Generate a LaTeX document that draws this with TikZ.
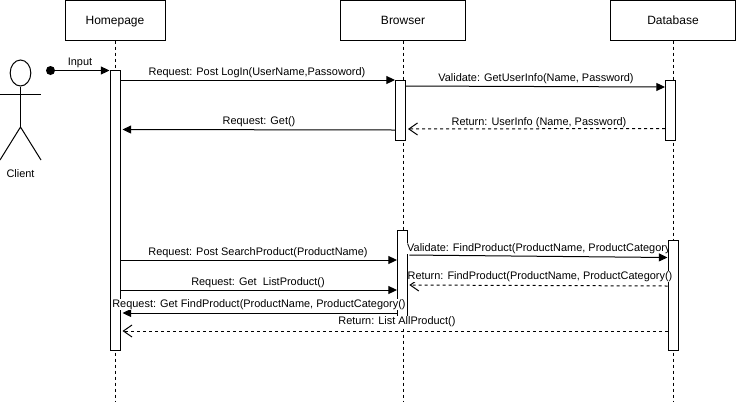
\documentclass[tikz,border=0pt]{standalone}
\usepackage{fontspec}
\setmainfont{Liberation Sans}
\usetikzlibrary{arrows.meta,shapes.geometric}
\tikzset{
	headbox/.style={draw, fill=white, line width=0.75pt, minimum height=30pt, inner sep=0pt, text height=7.5pt, text depth=0.5pt, font=\fontsize{9pt}{11pt}\selectfont},
	bar/.style={draw, fill=white, line width=0.75pt, minimum width=7.5pt, inner sep=0pt},
	lifeline/.style={line width=0.75pt, dash pattern=on 2.25pt off 2.25pt},
	msg/.style={line width=0.75pt, -{Triangle[length=6.5pt,width=6pt]}},
	backmsg/.style={line width=0.75pt, dash pattern=on 2.25pt off 2.25pt, -{Straight Barb[length=6.5pt,width=9pt]}},
	msglabel/.style={fill=white, inner sep=0pt, font=\fontsize{8.2pt}{9.5pt}\selectfont},
}
\begin{document}
\begin{tikzpicture}[x=0.75pt, y=-0.75pt]
			%%%%% START %%%%%
			\useasboundingbox (0, 0) rectangle (736, 401);
			
			\node[headbox, minimum width=75pt] (home) at (115, 20) {Homepage};
			\node[headbox, minimum width=94pt] (browser) at (403, 20) {Browser};
			\node[headbox, minimum width=94pt] (database) at (673, 20) {Database};
			
			\coordinate (homeEnd) at (115, 401);
			\coordinate (browserEnd) at (403, 401);
			\coordinate (databaseEnd) at (673, 401);
			\draw[lifeline] (home.south) -- (homeEnd);
			\draw[lifeline] (browser.south) -- (browserEnd);
			\draw[lifeline] (database.south) -- (databaseEnd);
			
			% client
			\node[draw, ellipse, line width=0.75pt, minimum width=15.5pt, minimum height=19.5pt, inner sep=0pt] (head) at (20.5, 73) {};
			\coordinate (neck) at (20.5, 127);
			\coordinate (armL) at (0, 94);
			\coordinate (armR) at (41, 94);
			\coordinate (legL) at (0, 160);
			\coordinate (legR) at (41, 160);
			\draw[line width=0.75pt] (head.south) -- (neck);
			\draw[line width=0.75pt] (armL) -- (armR);
			\draw[line width=0.75pt] (legL) -- (neck) -- (legR);
			\node[msglabel] (client) at (20.5, 174) {Client};
			
			\node[bar, minimum height=210pt] (homeBar) at (115, 210) {};
			\node[bar, minimum height=45pt] (browserBarA) at (400.5, 110) {};
			\node[bar, minimum height=45pt] (databaseBarA) at (670.5, 110) {};
			\node[bar, minimum height=67.5pt] (browserBarB) at (402.5, 275) {};
			
			\node[circle, fill=black, minimum size=6.75pt, inner sep=0pt] (start) at (50.5, 70.5) {};
			\draw[msg] (start) -- (homeBar.west |- start);
			\node[msglabel] (inputLabel) at (80, 62.5) {Input};
			
			\draw[msg] (homeBar.east |- 0,80) -- (browserBarA.west |- 0,80);
			\node[msglabel] (loginLabel) at (257, 72.5) {Request: Post LogIn(UserName,Passoword)};
			
			\draw[msg, shorten >=1.5pt] (browserBarA.west |- 0,130) -- (homeBar.east |- 0,129.5);
			\node[msglabel] (getLabel) at (259, 121.5) {Request: Get()};
			
			\draw[msg] (browserBarA.east |- 0,86) -- (databaseBarA.west |- 0,87);
			\node[msglabel] (validateLabel) at (536, 78.5) {Validate: GetUserInfo(Name, Password)};
			
			\draw[backmsg, shorten >=1.5pt] (databaseBarA.west |- 0,128.5) -- (browserBarA.east |- 0,129);
			\node[msglabel] (returnLabel) at (539, 122.5) {Return: UserInfo (Name, Password)};
			
			\draw[msg] (homeBar.east |- 0,260) -- (browserBarB.west |- 0,260);
			\node[msglabel] (searchLabel) at (258, 252.5) {Request: Post SearchProduct(ProductName)};
			
			\draw[msg] (homeBar.east |- 0,290) -- (browserBarB.west |- 0,290);
			\node[msglabel] (listLabel) at (258, 282.5) {Request: Get\ \ ListProduct()};
			
			\node[msglabel] (validateFindLabel) at (542.5, 248.5) {Validate: FindProduct(ProductName, ProductCategory()};
			\node[bar, minimum height=82.5pt] (databaseBarB) at (673, 295) {};
			
			\draw[msg, shorten <=1pt] (browserBarB.east |- 0,255) -- (databaseBarB.west |- 0,257.5);
			
			\draw[backmsg, shorten >=1pt] (databaseBarB.west |- 0,286) -- (browserBarB.east |- 0,285);
			\node[msglabel] (returnFindLabel) at (540, 276.5) {Return: FindProduct(ProductName, ProductCategory()};
			
			\draw[msg, shorten >=1.5pt] (browserBarB.west |- 0,313) -- (homeBar.east |- 0,313);
			\node[msglabel] (getFindLabel) at (259, 304.5) {Request: Get FindProduct(ProductName, ProductCategory()};
			
			\draw[backmsg, shorten >=1.5pt] (databaseBarB.west |- 0,331) -- (homeBar.east |- 0,331);
			\node[msglabel] (listAllLabel) at (397, 321.5) {Return: List AllProduct()};
			
			%%%%% END %%%%%
		\end{tikzpicture}
\end{document}
